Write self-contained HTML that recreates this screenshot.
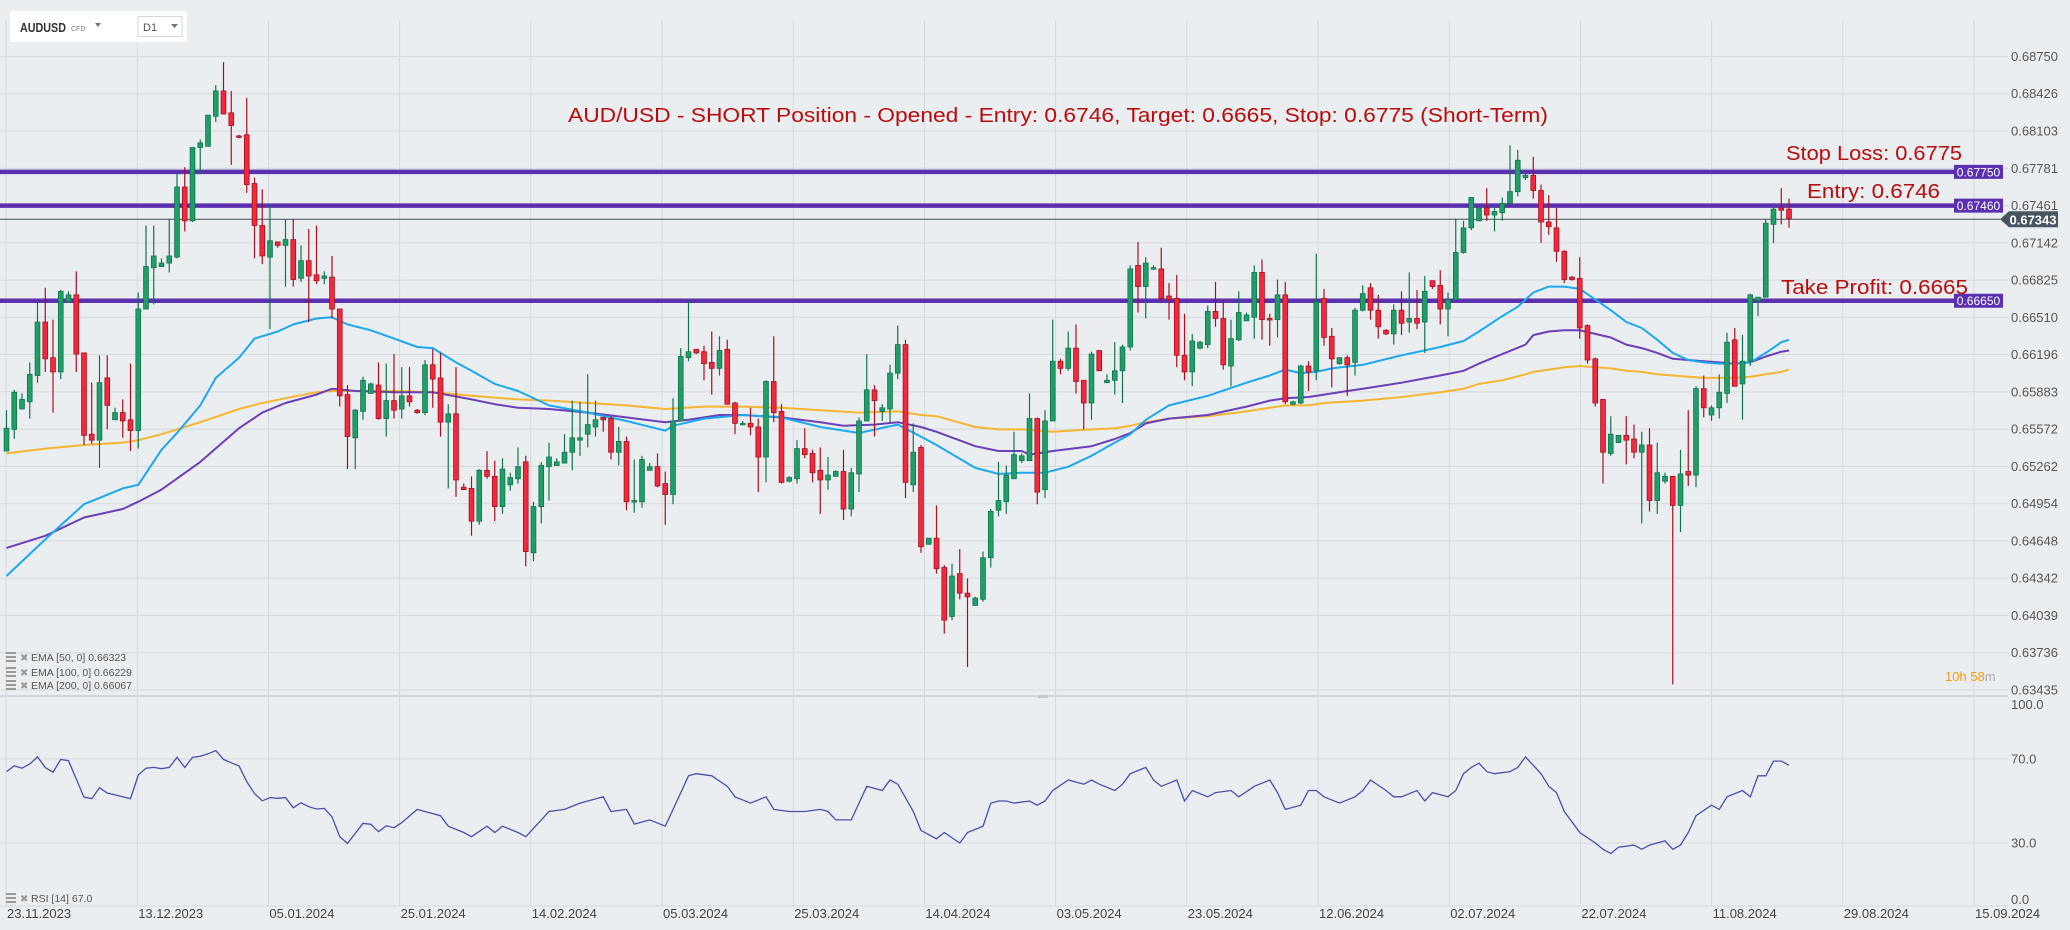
<!DOCTYPE html>
<html><head><meta charset="utf-8"><style>
html,body{margin:0;padding:0;background:#ebeef1;}
svg{display:block;font-family:"Liberation Sans",sans-serif;}
</style></head><body>
<svg id="chart" width="2070" height="930" viewBox="0 0 2070 930" xmlns="http://www.w3.org/2000/svg">
<rect x="0" y="0" width="2070" height="930" fill="#ebeef1"/>
<g id="grid"></g>
<g id="levels"></g>
<g id="emas"></g>
<g id="candles"></g>
<g id="rsi"></g>
<g id="axes"></g>
<g>
<rect x="10" y="11" width="177" height="31" fill="#ffffff" rx="2"/>
<text x="20" y="32" font-size="13" font-weight="bold" fill="#333" textLength="46" lengthAdjust="spacingAndGlyphs">AUDUSD</text>
<text x="71" y="31" font-size="7" fill="#777">CFD</text>
<path d="M95 23 L101 23 L98 27 Z" fill="#777"/>
<rect x="138" y="16.5" width="44" height="20" fill="#fff" stroke="#d4d7db"/>
<text x="143" y="31" font-size="11" fill="#555">D1</text>
<path d="M171 24 L178 24 L174.5 28 Z" fill="#777"/>
</g>
<text x="568" y="122" font-size="20" fill="#b80d0d" textLength="980" lengthAdjust="spacingAndGlyphs">AUD/USD - SHORT Position - Opened - Entry: 0.6746, Target: 0.6665, Stop: 0.6775 (Short-Term)</text>
<text x="1962" y="160" font-size="20" fill="#b80d0d" text-anchor="end" textLength="176" lengthAdjust="spacingAndGlyphs">Stop Loss: 0.6775</text>
<text x="1940" y="198" font-size="20" fill="#b80d0d" text-anchor="end" textLength="133" lengthAdjust="spacingAndGlyphs">Entry: 0.6746</text>
<text x="1968" y="294" font-size="20" fill="#b80d0d" text-anchor="end" textLength="187" lengthAdjust="spacingAndGlyphs">Take Profit: 0.6665</text>
<g>
<g><rect x="6" y="652" width="10" height="2" fill="#999"/><rect x="6" y="656" width="10" height="2" fill="#999"/><rect x="6" y="660" width="10" height="2" fill="#999"/><text x="20" y="661" font-size="10" fill="#999">✖</text><text x="31" y="661" font-size="10.5" fill="#555">EMA  [50,  0] 0.66323</text></g>
<g><rect x="6" y="667" width="10" height="2" fill="#999"/><rect x="6" y="671" width="10" height="2" fill="#999"/><rect x="6" y="675" width="10" height="2" fill="#999"/><text x="20" y="676" font-size="10" fill="#999">✖</text><text x="31" y="676" font-size="10.5" fill="#555">EMA  [100,  0] 0.66229</text></g>
<g><rect x="6" y="680" width="10" height="2" fill="#999"/><rect x="6" y="684" width="10" height="2" fill="#999"/><rect x="6" y="688" width="10" height="2" fill="#999"/><text x="20" y="689" font-size="10" fill="#999">✖</text><text x="31" y="689" font-size="10.5" fill="#555">EMA  [200,  0] 0.66067</text></g>
<g><rect x="6" y="893" width="10" height="2" fill="#999"/><rect x="6" y="897" width="10" height="2" fill="#999"/><rect x="6" y="901" width="10" height="2" fill="#999"/><text x="20" y="902" font-size="10" fill="#999">✖</text><text x="31" y="902" font-size="10.5" fill="#555">RSI  [14]  67.0</text></g>
</g>
<text x="1945" y="681" font-size="13"><tspan fill="#f39c12">10h </tspan><tspan fill="#f39c12">58</tspan><tspan fill="#aaa">m</tspan></text>
<rect x="1038" y="695" width="10" height="3" fill="#c4c8cc"/>
</svg>
<script>
const opens=[.6539,.6557,.6574,.6580,.6602,.6647,.6617,.6605,.6664,.6670,.6621,.6553,.6548,.6600,.6565,.6571,.6565,.6556,.6658,.6693,.6694,.6697,.6702,.6762,.6733,.6796,.6797,.6823,.6845,.6826,.6806,.6807,.6765,.6729,.6702,.6715,.6712,.6717,.6684,.6699,.6687,.6684,.6685,.6658,.6586,.6550,.6572,.6587,.6594,.6566,.6581,.6574,.6585,.6573,.6571,.6611,.6600,.6563,.6570,.6509,.6508,.6481,.6523,.6518,.6493,.6511,.6516,.6530,.6455,.6493,.6526,.6527,.6529,.6538,.6548,.6553,.6559,.6567,.6566,.6538,.6547,.6497,.6497,.6523,.6526,.6512,.6503,.6564,.6617,.6624,.6622,.6613,.6608,.6624,.6579,.6561,.6562,.6559,.6534,.6597,.6572,.6514,.6516,.6541,.6537,.6523,.6515,.6518,.6522,.6491,.6520,.6564,.6590,.6572,.6574,.6604,.6628,.6511,.6542,.6462,.6467,.6443,.6403,.6438,.6422,.6412,.6417,.6451,.6490,.6497,.6516,.6531,.6531,.6566,.6507,.6564,.6614,.6608,.6625,.6598,.6579,.6623,.6596,.6598,.6606,.6626,.6695,.6677,.6692,.6692,.6669,.6667,.6619,.6605,.6625,.6628,.6656,.6650,.6610,.6632,.6648,.6651,.6689,.6650,.6649,.6670,.6578,.6579,.6610,.6606,.6667,.6635,.6612,.6617,.6613,.6657,.6676,.6657,.6640,.6637,.6657,.6647,.6650,.6647,.6682,.6678,.6658,.6666,.6706,.6727,.6733,.6744,.6738,.6740,.6748,.6758,.6770,.6772,.6759,.6732,.6727,.6707,.6685,.6684,.6644,.6616,.6582,.6537,.6546,.6552,.6549,.6538,.6544,.6498,.6514,.6518,.6494,.6522,.6519,.6591,.6569,.6575,.6587,.6632,.6595,.6614,.6665,.6668,.6730,.6744,.6743];
const highs=[.6573,.6590,.6587,.6613,.6664,.6676,.6649,.6674,.6673,.6690,.6621,.6596,.6619,.6619,.6575,.6582,.6612,.6672,.6729,.6729,.6701,.6735,.6774,.6779,.6796,.6803,.6824,.6850,.6870,.6845,.6807,.6839,.6770,.6760,.6746,.6715,.6734,.6734,.6712,.6726,.6729,.6690,.6703,.6658,.6594,.6574,.6601,.6596,.6613,.6612,.6620,.6609,.6609,.6574,.6615,.6624,.6621,.6578,.6609,.6512,.6518,.6524,.6539,.6531,.6533,.6521,.6542,.6535,.6497,.6530,.6546,.6533,.6553,.6581,.6580,.6603,.6581,.6567,.6568,.6559,.6551,.6532,.6535,.6529,.6537,.6522,.6583,.6625,.6665,.6624,.6627,.6639,.6635,.6632,.6580,.6564,.6575,.6566,.6598,.6635,.6578,.6518,.6548,.6558,.6540,.6542,.6534,.6523,.6540,.6525,.6567,.6620,.6594,.6578,.6611,.6644,.6632,.6562,.6544,.6467,.6494,.6445,.6446,.6458,.6434,.6419,.6456,.6491,.6530,.6527,.6555,.6537,.6587,.6567,.6573,.6649,.6616,.6639,.6645,.6598,.6622,.6623,.6603,.6630,.6628,.6695,.6715,.6702,.6695,.6710,.6680,.6687,.6654,.6637,.6631,.6661,.6681,.6666,.6649,.6673,.6655,.6695,.6700,.6654,.6683,.6681,.6581,.6611,.6614,.6705,.6675,.6642,.6617,.6619,.6659,.6678,.6680,.6670,.6641,.6662,.6673,.6689,.6674,.6686,.6682,.6691,.6672,.6735,.6733,.6753,.6745,.6761,.6745,.6753,.6798,.6794,.6777,.6788,.6764,.6755,.6744,.6708,.6686,.6702,.6645,.6617,.6582,.6568,.6552,.6568,.6561,.6555,.6558,.6546,.6521,.6518,.6540,.6573,.6593,.6602,.6577,.6603,.6638,.6642,.6636,.6671,.6668,.6734,.6748,.6761,.6752];
const lows=[.6539,.6549,.6574,.6566,.6596,.6605,.6571,.6599,.6664,.6605,.6544,.6545,.6525,.6557,.6565,.6550,.6539,.6541,.6658,.6662,.6694,.6689,.6701,.6724,.6732,.6773,.6797,.6818,.6825,.6781,.6804,.6757,.6701,.6696,.6641,.6710,.6677,.6677,.6681,.6647,.6679,.6679,.6650,.6576,.6524,.6524,.6565,.6587,.6565,.6551,.6566,.6566,.6576,.6570,.6569,.6575,.6551,.6508,.6501,.6507,.6469,.6478,.6516,.6481,.6487,.6506,.6512,.6444,.6448,.6479,.6498,.6527,.6529,.6523,.6535,.6542,.6551,.6555,.6532,.6527,.6490,.6488,.6492,.6523,.6509,.6478,.6495,.6564,.6614,.6620,.6598,.6586,.6602,.6578,.6553,.6561,.6552,.6505,.6513,.6563,.6512,.6513,.6512,.6533,.6513,.6487,.6507,.6518,.6482,.6485,.6505,.6564,.6551,.6564,.6563,.6599,.6500,.6505,.6455,.6462,.6438,.6389,.6400,.6417,.6362,.6412,.6415,.6443,.6485,.6487,.6516,.6529,.6531,.6495,.6500,.6564,.6603,.6606,.6587,.6557,.6565,.6606,.6596,.6586,.6579,.6623,.6655,.6650,.6692,.6663,.6649,.6609,.6598,.6593,.6624,.6625,.6643,.6607,.6593,.6631,.6648,.6633,.6632,.6627,.6634,.6578,.6577,.6578,.6589,.6598,.6627,.6592,.6611,.6585,.6602,.6656,.6649,.6633,.6636,.6628,.6636,.6638,.6641,.6621,.6675,.6645,.6635,.6666,.6705,.6725,.6733,.6733,.6724,.6733,.6747,.6754,.6768,.6752,.6714,.6721,.6698,.6680,.6682,.6633,.6612,.6576,.6512,.6535,.6546,.6528,.6533,.6479,.6489,.6487,.6512,.6348,.6472,.6510,.6509,.6567,.6564,.6566,.6579,.6593,.6565,.6610,.6652,.6668,.6714,.6730,.6727];
const closes=[.6558,.6588,.6582,.6603,.6647,.6616,.6605,.6673,.6670,.6620,.6552,.6548,.6596,.6577,.6571,.6564,.6556,.6658,.6694,.6703,.6697,.6703,.6762,.6733,.6796,.6800,.6824,.6845,.6825,.6815,.6805,.6764,.6729,.6703,.6716,.6712,.6717,.6683,.6699,.6686,.6682,.6686,.6658,.6585,.6551,.6573,.6598,.6595,.6566,.6581,.6573,.6585,.6580,.6571,.6611,.6599,.6563,.6570,.6515,.6507,.6481,.6523,.6518,.6493,.6524,.6517,.6526,.6456,.6493,.6527,.6534,.6530,.6538,.6550,.6550,.6561,.6565,.6565,.6538,.6547,.6497,.6498,.6532,.6526,.6510,.6503,.6564,.6618,.6622,.6621,.6612,.6608,.6623,.6578,.6562,.6562,.6559,.6534,.6597,.6571,.6513,.6517,.6541,.6536,.6521,.6515,.6519,.6522,.6491,.6521,.6564,.6590,.6581,.6575,.6604,.6628,.6513,.6538,.6460,.6467,.6442,.6400,.6436,.6422,.6419,.6418,.6451,.6489,.6498,.6519,.6536,.6535,.6566,.6505,.6564,.6614,.6608,.6625,.6597,.6579,.6620,.6606,.6598,.6606,.6626,.6692,.6677,.6697,.6693,.6667,.6666,.6619,.6605,.6631,.6630,.6656,.6650,.6611,.6633,.6655,.6653,.6689,.6649,.6649,.6670,.6580,.6580,.6610,.6605,.6664,.6634,.6616,.6617,.6611,.6657,.6671,.6657,.6643,.6637,.6657,.6646,.6650,.6646,.6673,.6677,.6658,.6666,.6706,.6727,.6753,.6744,.6738,.6741,.6748,.6758,.6785,.6772,.6759,.6732,.6728,.6707,.6683,.6683,.6642,.6615,.6579,.6538,.6553,.6552,.6548,.6538,.6544,.6498,.6521,.6518,.6494,.6520,.6519,.6591,.6575,.6575,.6588,.6630,.6593,.6614,.6670,.6668,.6731,.6743,.6742,.6735];

const ema50Idx=[0,5,10,15,17,20,22,25,27,30,32,35,37,40,42,44,47,50,53,55,58,60,63,66,70,75,80,85,86,90,95,100,105,110,115,118,120,125,128,131,134,137,140,143,145,147,150,155,160,163,165,167,169,171,175,180,185,188,190,193,195,197,199,201,203,205,207,209,211,213,215,217,219,221,223,225,227,229,230];
const ema50Val=[.6436,.6466,.6495,.6508,.6511,.6540,.6554,.6577,.6600,.6617,.6633,.6639,.6645,.6650,.6651,.6645,.6640,.6633,.6626,.6625,.6613,.6606,.6595,.6589,.6577,.6571,.6564,.6556,.6560,.6566,.6569,.6567,.6559,.6554,.6561,.6551,.6544,.6525,.6520,.6521,.6521,.6526,.6535,.6546,.6553,.6565,.6577,.6585,.6596,.6602,.6607,.6604,.6605,.6608,.6611,.6619,.6626,.6631,.6639,.6652,.6660,.6672,.6677,.6677,.6675,.6666,.6657,.6647,.6642,.6632,.6621,.6615,.6613,.6612,.6612,.6613,.6621,.6630,.6632];
const ema100Idx=[0,5,10,15,17,20,25,30,33,36,40,42,45,50,55,60,63,66,70,75,80,85,88,92,95,100,105,108,112,115,118,120,125,128,131,132,135,140,143,145,147,150,155,160,163,165,168,170,173,175,180,185,188,190,193,196,197,199,201,203,205,207,209,211,213,215,217,219,221,223,225,227,229,230];
const ema100Val=[.6459,.6469,.6484,.6491,.6497,.6507,.6530,.6558,.6571,.6579,.6586,.6591,.6589,.6588,.6588,.6582,.6578,.6575,.6574,.6571,.6567,.6563,.6565,.6569,.6569,.6567,.6563,.6560,.6561,.6563,.6559,.6555,.6543,.6539,.6539,.6536,.6539,.6543,.6549,.6554,.6562,.6566,.6569,.6576,.6581,.6583,.6584,.6586,.6589,.6591,.6596,.6602,.6606,.6612,.6620,.6628,.6636,.6639,.6640,.6640,.6637,.6634,.6628,.6625,.6621,.6616,.6615,.6614,.6613,.6612,.6613,.6618,.6622,.6623];
const ema200Idx=[0,5,10,15,17,20,25,30,33,36,40,42,45,50,55,60,66,70,75,80,85,90,95,100,105,110,115,118,120,125,128,131,135,140,143,145,147,150,155,160,163,165,168,170,175,180,185,188,190,193,196,197,199,201,203,205,207,209,211,213,215,217,219,221,223,225,227,229,230];
const ema200Val=[.6537,.6541,.6544,.6546,.6548,.6553,.6563,.6574,.6579,.6583,.6588,.6589,.6589,.6589,.6588,.6585,.6582,.6581,.6579,.6577,.6574,.6576,.6576,.6575,.6573,.6571,.6572,.6569,.6568,.6559,.6557,.6557,.6555,.6557,.6558,.6560,.6563,.6566,.6568,.6572,.6575,.6577,.6577,.6579,.6581,.6584,.6588,.6591,.6595,.6598,.6603,.6605,.6607,.6609,.6610,.6609,.6608,.6606,.6605,.6603,.6602,.6601,.6600,.6600,.6600,.6601,.6603,.6605,.6607];

const rsiIdx=[0,1,2,3,4,5,6,7,8,10,11,12,13,14,16,17,18,19,20,21,22,23,24,25,26,27,28,29,30,31,32,33,34,35,36,37,38,39,40,41,42,43,44,45,46,47,48,49,50,51,53,54,56,57,59,60,62,63,64,66,67,69,70,72,74,75,77,78,80,81,83,85,87,88,89,91,93,94,96,98,99,101,103,105,106,107,109,110,111,113,114,115,117,118,120,121,123,124,126,127,128,129,130,132,133,134,135,137,139,140,141,143,144,145,147,148,149,151,152,153,155,156,158,159,161,163,164,165,167,168,169,170,172,174,175,176,178,179,180,182,183,184,186,187,188,189,190,191,192,194,195,196,198,199,200,201,203,205,206,207,208,210,211,212,214,215,216,217,218,220,221,222,224,225,226,227,228,229,230];
const rsiVal=[64,66.7,65.6,67.6,71,65.9,63.7,69.8,69.2,51.8,51.1,56.3,53.8,52.9,51.1,62.4,65.6,66,65.4,66,70.8,66,70.8,71.3,72.5,74,69.8,68.2,66.7,59.2,53.5,50.1,51.6,51.3,51.6,46.8,49.2,47.3,46.2,46.5,42.5,33,29.8,34.6,39.4,38.9,35.4,38.2,37.3,39.7,46,45,43,38,35,33,38,35,38,35,33,41,45,46,49,50,52,45,46,39,41,38,54,62,63,62,57,52,49,52,46,45,45,46,45,41,41,49,57,55,60,58,45,36,32,35,30,35,38,49,50,50,49,50,48,50,55,60,58,60,58,55,58,63,66,60,57,60,50,55,52,54,55,52,57,60,54,46,48,55,55,52,49,52,55,60,55,52,52,55,50,54,52,55,63,66,68,64,63,64,66,71,63,57,54,45,35,30,27,25,28,29,27,29,31,27,29,35,43,48,46,52,55,52,62,62,69,69,67];

const priceTicks=[0.68750,0.68426,0.68103,0.67781,0.67461,0.67142,0.66825,0.66510,0.66196,0.65883,0.65572,0.65262,0.64954,0.64648,0.64342,0.64039,0.63736,0.63435];
const priceTickLabels=["0.68750","0.68426","0.68103","0.67781","0.67461","0.67142","0.66825","0.66510","0.66196","0.65883","0.65572","0.65262","0.64954","0.64648","0.64342","0.64039","0.63736","0.63435"];
const dateLabels=["23.11.2023","13.12.2023","05.01.2024","25.01.2024","14.02.2024","05.03.2024","25.03.2024","14.04.2024","03.05.2024","23.05.2024","12.06.2024","02.07.2024","22.07.2024","11.08.2024","29.08.2024","15.09.2024"];
const dateSlots=[0,1,2,3,4,5,6,7,8,9,10,11,12,13,14,15];
const rsiTicks=[100,70,30,0];
const rsiTickLabels=["100.0","70.0","30.0","0.0"];
const levelPrices=[0.6775,0.6746,0.6665];
const levelLabels=["0.67750","0.67460","0.66650"];
const levelNames=["stop-loss","entry","take-profit"];
const lastPrice=0.67343;
const lastPriceLabel="0.67343";

const NS="http://www.w3.org/2000/svg";
const P_TOP=0.6875,P_BOT=0.63435,Y_TOP=56.5,Y_BOT=690;
function yP(p){return Y_TOP+Math.log(P_TOP/p)/Math.log(P_TOP/P_BOT)*(Y_BOT-Y_TOP);}
function xC(i){return 6.5+7.75*i;}
function xD(k){return 6+131.2*k;}
const R_Y0=906,R_Y100=696;
function yR(v){return R_Y0-(R_Y0-R_Y100)*v/100;}
function mk(tag,attrs,parent){const e=document.createElementNS(NS,tag);for(const k in attrs)e.setAttribute(k,attrs[k]);parent.appendChild(e);return e;}

const grid=document.getElementById('grid');
const axes=document.getElementById('axes');
priceTicks.forEach((p,k)=>{
  const y=yP(p);
  const l=mk('line',{x1:0,x2:2008,y1:y,y2:y,stroke:'#d5d9dd','stroke-width':1},grid);
  
  
  const t=mk('text',{x:2011,y:y+4.5,'font-size':13,fill:'#555'},axes);
  t.textContent=priceTickLabels[k];
  
  
});
rsiTicks.forEach((v,k)=>{
  const y=yR(v);
  const l=mk('line',{x1:0,x2:2008,y1:y,y2:y,stroke:(v===100?'#c9cdd2':'#d5d9dd'),'stroke-width':(v===100?1.5:1)},grid);
  
  
  let ty=y+4.5; if(v===100)ty=y+13; if(v===0)ty=y-2;
  const t=mk('text',{x:2011,y:ty,'font-size':13,fill:'#555'},axes);
  t.textContent=rsiTickLabels[k];
  
  
});
dateSlots.forEach((s,k)=>{
  const x=xD(s);
  const l=mk('line',{x1:x,x2:x,y1:20,y2:906,stroke:'#d5d9dd','stroke-width':1},grid);
  
  
  const t=mk('text',{x:x+1,y:918,'font-size':13,fill:'#444'},axes);
  t.textContent=dateLabels[k];
  
  
});

const lv=document.getElementById('levels');
const cpY=yP(lastPrice);
const cp=mk('line',{x1:0,x2:2000,y1:cpY,y2:cpY,stroke:'#3e4f5a','stroke-width':1},lv);


levelPrices.forEach((p,k)=>{
  const y=yP(p);
  const l=mk('line',{x1:0,x2:1956,y1:y,y2:y,stroke:'#5a2fb0','stroke-width':4.5},lv);
  
  
  const r=mk('rect',{x:1954,y:y-7,width:49,height:14,fill:'#5a2fb0'},axes);
  
  
  const t=mk('text',{x:1978.5,y:y+4.5,'font-size':12,fill:'#fff','text-anchor':'middle'},axes);
  t.textContent=levelLabels[k];
  
  
});
const cpb=mk('path',{d:`M2000 ${cpY} L2009 ${cpY-8} L2058 ${cpY-8} L2058 ${cpY+8} L2009 ${cpY+8} Z`,fill:'#46555f'},axes);


const cpt=mk('text',{x:2033,y:cpY+5,'font-size':13,'font-weight':'bold',fill:'#fff','text-anchor':'middle'},axes);
cpt.textContent=lastPriceLabel;



const eg=document.getElementById('emas');
function emaPath(idx,val,color,name){
  const d=idx.map((i,k)=>(k?'L':'M')+xC(i).toFixed(1)+' '+yP(val[k]).toFixed(1)).join(' ');
  const p=mk('path',{d:d,fill:'none',stroke:color,'stroke-width':2,'stroke-linejoin':'round'},eg);
  
  
}
emaPath(ema200Idx,ema200Val,'#f6b530','ema200-line');
emaPath(ema100Idx,ema100Val,'#6a3fb8','ema100-line');
emaPath(ema50Idx,ema50Val,'#1ca8ee','ema50-line');

const cg=document.getElementById('candles');
for(let i=0;i<closes.length;i++){
  const up=closes[i]>=opens[i];
  const x=xC(i);
  const fill=up?'#1f9e6a':'#f4283d';
  const edge=up?'#13744b':'#a3111f';
  const w=mk('line',{x1:x,x2:x,y1:yP(highs[i]),y2:yP(lows[i]),stroke:edge,'stroke-width':1.2},cg);
  
  
  const yt=yP(Math.max(opens[i],closes[i])),yb=yP(Math.min(opens[i],closes[i]));
  const b=mk('rect',{x:x-2.4,y:yt,width:4.8,height:Math.max(1.5,yb-yt),fill:fill,stroke:edge,'stroke-width':0.8},cg);
  
  
}

const rg=document.getElementById('rsi');
const rd=rsiIdx.map((i,k)=>(k?'L':'M')+xC(i).toFixed(1)+' '+yR(rsiVal[k]).toFixed(1)).join(' ');
const rl=mk('path',{d:rd,fill:'none',stroke:'#4a4fa8','stroke-width':1.3},rg);


</script>
</body></html>
